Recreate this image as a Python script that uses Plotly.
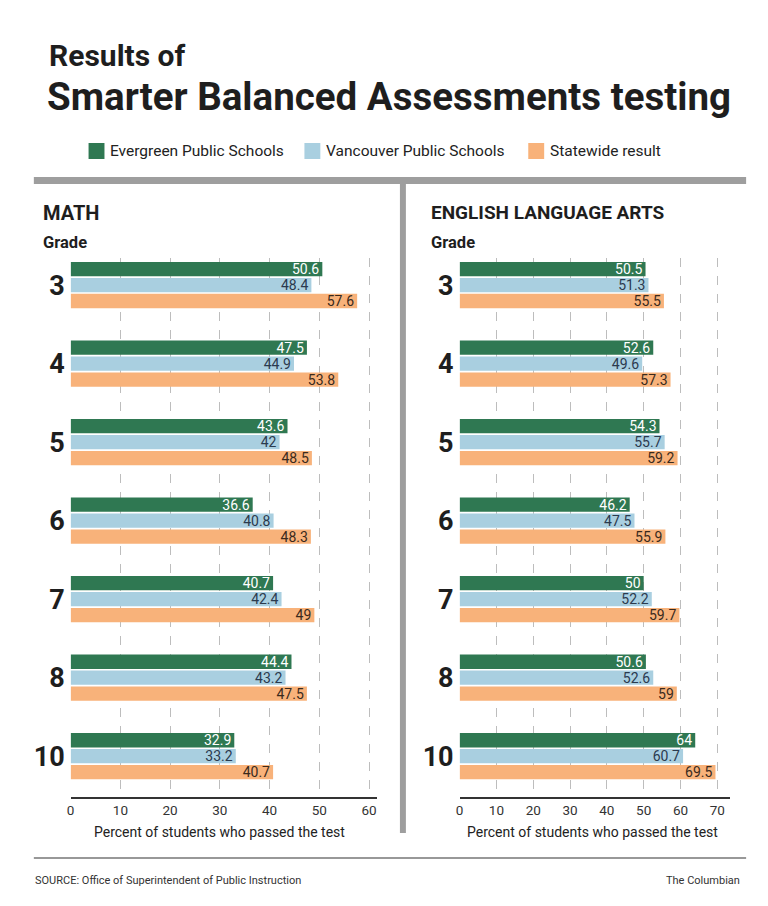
import plotly.graph_objects as go

grades = ["3", "4", "5", "6", "7", "8", "10"]
series_names = ["Evergreen Public Schools", "Vancouver Public Schools", "Statewide result"]

math_evergreen = [50.6, 47.5, 43.6, 36.6, 40.7, 44.4, 32.9]
math_vancouver = [48.4, 44.9, 42, 40.8, 42.4, 43.2, 33.2]
math_state = [57.6, 53.8, 48.5, 48.3, 49, 47.5, 40.7]

ela_evergreen = [50.5, 52.6, 54.3, 46.2, 50, 50.6, 64]
ela_vancouver = [51.3, 49.6, 55.7, 47.5, 52.2, 52.6, 60.7]
ela_state = [55.5, 57.3, 59.2, 55.9, 59.7, 59, 69.5]

math_ticks = [0, 10, 20, 30, 40, 50, 60]
ela_ticks = [0, 10, 20, 30, 40, 50, 60, 70]

colors = ["#2f7852", "#a9cfe0", "#f8b27a"]
label_colors = ["#ffffff", "#2b3a4e", "#3a2a1c"]

FONT = "Roboto, Liberation Sans, sans-serif"

W, H = 768, 906


def px(x):
    return x / W


def py(y):
    return 1 - y / H


fig = go.Figure()

panels = [
    ("x", "y", [math_evergreen, math_vancouver, math_state]),
    ("x2", "y2", [ela_evergreen, ela_vancouver, ela_state]),
]
for xa, ya, vals in panels:
    for i, v in enumerate(vals):
        fig.add_trace(go.Bar(
            x=v, y=grades, orientation="h", name=series_names[i],
            marker=dict(color=colors[i], line=dict(width=0)),
            text=[f"{t:g}" for t in v], textposition="inside", textangle=0,
            insidetextanchor="end", constraintext="none",
            textfont=dict(family=FONT, size=14, color=label_colors[i]),
            xaxis=xa, yaxis=ya, showlegend=False, offsetgroup=str(i),
            hoverinfo="skip",
        ))

ytop, ybot = 258, 797
ydom = [py(ybot), py(ytop)]
yrange = [6.52, -0.345]

common_x = dict(
    showline=True, linecolor="#333333", linewidth=1.5,
    showgrid=True, gridcolor="#bdbdbd", griddash="dash", gridwidth=1,
    zeroline=False, ticks="", tickfont=dict(family=FONT, size=13.5, color="#333333"),
    fixedrange=True,
)
common_y = dict(
    type="category", range=yrange, showgrid=False, showline=False, ticks="",
    tickfont=dict(family=FONT, size=27, color="#1e1e1e", weight="bold"), ticklabelstandoff=5,
    domain=ydom, fixedrange=True,
)

fig.update_layout(
    width=W, height=H, margin=dict(l=0, r=0, t=0, b=0),
    paper_bgcolor="white", plot_bgcolor="white",
    barmode="group", bargap=0.39, bargroupgap=0.1,
    xaxis=dict(domain=[px(67), px(375)], range=[0, 61.6], tickvals=math_ticks, anchor="y", **common_x),
    yaxis=dict(anchor="x", **common_y),
    xaxis2=dict(domain=[px(458), px(730)], range=[0, 73.5], tickvals=ela_ticks, anchor="y2", **common_x),
    yaxis2=dict(anchor="x2", **common_y),
    showlegend=False,
    font=dict(family=FONT),
)

ann = []
ann.append(dict(text="<b>Results of</b>", x=px(43), y=py(56), xanchor="left", yanchor="middle",
                font=dict(family=FONT, size=30, color="#1e1e1e")))
ann.append(dict(text="<b>Smarter Balanced Assessments testing</b>", x=px(41), y=py(97), xanchor="left", yanchor="middle",
                font=dict(family=FONT, size=38.5, color="#1e1e1e")))
ann.append(dict(text="<b>MATH</b>", x=px(37), y=py(213), xanchor="left", yanchor="middle",
                font=dict(family=FONT, size=20, color="#1e1e1e")))
ann.append(dict(text="<b>Grade</b>", x=px(37), y=py(243), xanchor="left", yanchor="middle",
                font=dict(family=FONT, size=16.5, color="#1e1e1e")))
ann.append(dict(text="<b>ENGLISH LANGUAGE ARTS</b>", x=px(427), y=py(213), xanchor="left", yanchor="middle",
                font=dict(family=FONT, size=19, color="#1e1e1e")))
ann.append(dict(text="<b>Grade</b>", x=px(427), y=py(243), xanchor="left", yanchor="middle",
                font=dict(family=FONT, size=16.5, color="#1e1e1e")))
ann.append(dict(text="Percent of students who passed the test", x=px(217), y=py(832), xanchor="center", yanchor="middle",
                font=dict(family=FONT, size=14, color="#222222")))
ann.append(dict(text="Percent of students who passed the test", x=px(592), y=py(832), xanchor="center", yanchor="middle",
                font=dict(family=FONT, size=14, color="#222222")))
ann.append(dict(text="SOURCE: Office of Superintendent of Public Instruction", x=px(29), y=py(880), xanchor="left", yanchor="middle",
                font=dict(family=FONT, size=11, color="#333333")))
ann.append(dict(text="The Columbian", x=px(742), y=py(880), xanchor="right", yanchor="middle",
                font=dict(family=FONT, size=11, color="#333333")))

# legend (manual, from series names/colors)
legend_sq_x = [85, 302, 527]
shapes = []
for i, name in enumerate(series_names):
    x0 = legend_sq_x[i]
    shapes.append(dict(type="rect", xref="paper", yref="paper", x0=px(x0), x1=px(x0 + 16),
                       y0=py(159), y1=py(143), fillcolor=colors[i], line=dict(width=0)))
    ann.append(dict(text=name, x=px(x0 + 20), y=py(151), xanchor="left", yanchor="middle",
                    font=dict(family=FONT, size=15.5, color="#222222")))

for a in ann:
    a.update(xref="paper", yref="paper", showarrow=False)
fig.update_layout(annotations=ann)

shapes += [
    dict(type="rect", xref="paper", yref="paper", x0=px(30), x1=px(746), y0=py(184), y1=py(177),
         fillcolor="#9e9e9e", line=dict(width=0)),
    dict(type="rect", xref="paper", yref="paper", x0=px(398), x1=px(404), y0=py(833), y1=py(182),
         fillcolor="#9e9e9e", line=dict(width=0)),
    dict(type="line", xref="paper", yref="paper", x0=px(30), x1=px(746), y0=py(858), y1=py(858),
         line=dict(color="#333333", width=1.2)),
]
fig.update_layout(shapes=shapes)

fig.write_html("out.html", config={"displayModeBar": False},
               post_script="document.body.style.margin='0';document.body.style.overflow='hidden';")
